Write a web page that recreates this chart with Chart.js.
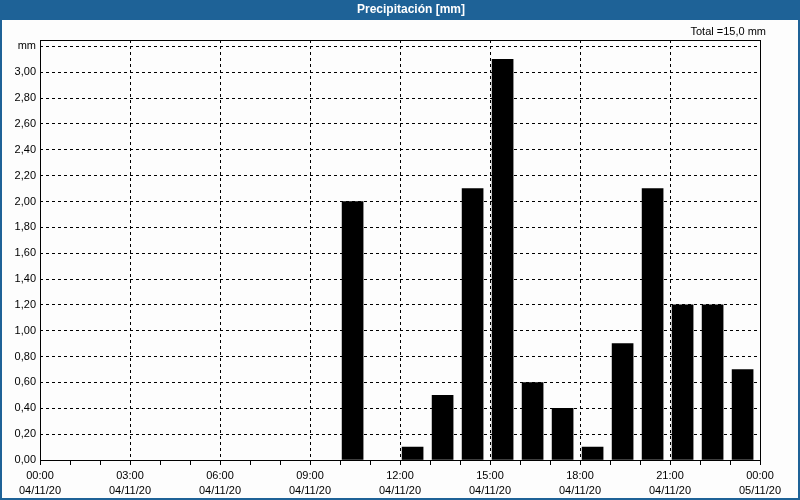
<!DOCTYPE html>
<html>
<head>
<meta charset="utf-8">
<script src="https://cdn.jsdelivr.net/npm/chart.js@4/dist/chart.umd.min.js"></script>
<style>
html,body{margin:0;padding:0;background:#fff;}
#wrap{width:800px;height:500px;position:relative;}
</style>
</head>
<body>
<div id="wrap"><canvas id="c" width="800" height="500"></canvas></div>
<script>
const chartTitle = 'Precipitación [mm]';
const totalText = 'Total =15,0 mm';
const hours = [0,1,2,3,4,5,6,7,8,9,10,11,12,13,14,15,16,17,18,19,20,21,22,23];
const precip = [0,0,0,0,0,0,0,0,0,0,2.0,0,0.1,0.5,2.1,3.1,0.6,0.4,0.1,0.9,2.1,1.2,1.2,0.7];
const xTickHours = [0,3,6,9,12,15,18,21,24];
const xTickTimes = ['00:00','03:00','06:00','09:00','12:00','15:00','18:00','21:00','00:00'];
const xTickDates = ['04/11/20','04/11/20','04/11/20','04/11/20','04/11/20','04/11/20','04/11/20','04/11/20','05/11/20'];
const yTicks = [0,0.2,0.4,0.6,0.8,1.0,1.2,1.4,1.6,1.8,2.0,2.2,2.4,2.6,2.8,3.0,3.2];
const yUnitLabel = 'mm';

const FONT = 'Liberation Sans';
const BLUE = '#1e6297';

const framePlugin = {
  id: 'frame',
  beforeDraw(chart) {
    const ctx = chart.ctx;
    ctx.save();
    ctx.fillStyle = '#fdfdfd';
    ctx.fillRect(0, 0, 800, 500);
    ctx.fillStyle = BLUE;
    ctx.fillRect(0, 0, 800, 20);
    ctx.fillStyle = '#ffffff';
    ctx.font = 'bold 12px "' + FONT + '"';
    ctx.textAlign = 'center';
    ctx.textBaseline = 'middle';
    ctx.fillText(chartTitle, 411, 10);
    ctx.fillStyle = '#000';
    ctx.font = '11px "' + FONT + '"';
    ctx.textAlign = 'right';
    ctx.fillText(totalText, 766, 32);
    ctx.restore();
  },
  afterDraw(chart) {
    const ctx = chart.ctx;
    const a = chart.chartArea;
    ctx.save();
    ctx.strokeStyle = '#000';
    ctx.lineWidth = 1;
    ctx.setLineDash([]);
    ctx.strokeRect(Math.round(a.left) + 0.5, Math.round(a.top) + 0.5, Math.round(a.right - a.left), Math.round(a.bottom - a.top));
    ctx.strokeStyle = BLUE;
    ctx.lineWidth = 2;
    ctx.strokeRect(1, 1, 798, 498);
    ctx.restore();
  }
};

new Chart(document.getElementById('c'), {
  type: 'bar',
  data: {
    datasets: [{
      data: hours.map((h, i) => ({x: h + 0.42, y: precip[i] > 0 ? precip[i] : null})),
      backgroundColor: '#000000',
      borderWidth: 0,
      barThickness: 21
    }]
  },
  options: {
    responsive: false,
    animation: false,
    devicePixelRatio: 1,
    layout: {padding: {top: 40, right: 40, left: 0, bottom: 0}},
    plugins: {legend: {display: false}, tooltip: {enabled: false}, title: {display: false}},
    scales: {
      x: {
        type: 'linear',
        min: 0,
        max: 24,
        offset: false,
        afterBuildTicks(scale) {
          const t = [];
          for (let h = 0; h <= 24; h++) t.push({value: h});
          scale.ticks = t;
        },
        afterFit(scale) { scale.height = 40; },
        grid: {
          offset: false,
          color: (c) => (c.tick && xTickHours.includes(c.tick.value)) ? '#000' : 'rgba(0,0,0,0)',
          tickColor: '#000',
          tickLength: 5,
          lineWidth: 1,
          drawTicks: true
        },
        border: {display: false, dash: [3, 3]},
        ticks: {
          autoSkip: false,
          maxRotation: 0,
          padding: 4,
          color: '#000',
          font: {family: FONT, size: 11, lineHeight: 1.32},
          callback(v) {
            const i = xTickHours.indexOf(v);
            return i >= 0 ? [xTickTimes[i], xTickDates[i]] : '';
          }
        }
      },
      y: {
        min: 0,
        max: 3.25,
        afterBuildTicks(scale) { scale.ticks = yTicks.map(v => ({value: v})); },
        afterFit(scale) { scale.width = 40; },
        grid: {color: '#000', drawTicks: false, lineWidth: 1},
        border: {display: false, dash: [3, 3]},
        ticks: {
          padding: 4,
          color: '#000',
          font: {family: FONT, size: 11},
          callback(v) {
            if (Math.abs(v - 3.2) < 1e-6) return yUnitLabel;
            return v.toFixed(2).replace('.', ',');
          }
        }
      }
    }
  },
  plugins: [framePlugin]
});
</script>
</body>
</html>
